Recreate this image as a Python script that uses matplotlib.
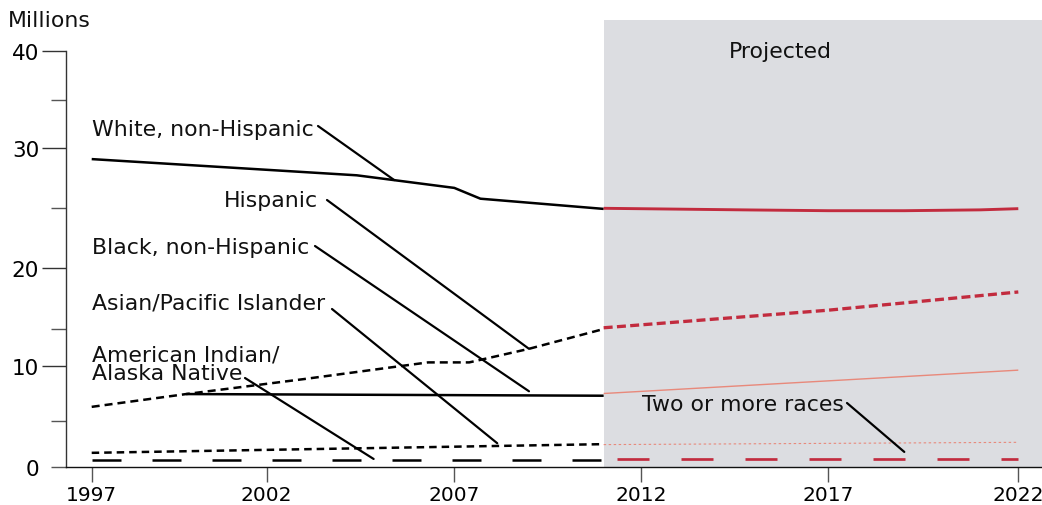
import numpy as np
import matplotlib
matplotlib.use("Agg")
import matplotlib.pyplot as plt
import matplotlib.transforms as mtransforms
from matplotlib.ticker import FixedLocator, FixedFormatter

# enrollment by race/ethnicity, millions
white_years = [1997, 2004.4, 2007, 2007.7, 2011]
white_vals = [29.1, 27.75, 26.7, 25.8, 24.95]
white_proj_years = [2011, 2013, 2015, 2017, 2019, 2021, 2022]
white_proj_vals = [25.0, 24.93, 24.86, 24.8, 24.8, 24.87, 24.97]

hisp_years = [1997, 1999.7, 2003, 2006.3, 2007.4, 2009, 2011]
hisp_vals = [6.3, 7.45, 8.8, 10.45, 10.45, 12.3, 15.0]
hisp_proj_years = [2011, 2017, 2022]
hisp_proj_vals = [15.1, 16.55, 18.05]

black_years = [1999.7, 2011]
black_vals = [7.45, 7.3]
black_proj_years = [2011, 2022]
black_proj_vals = [7.5, 9.6]

asian_years = [1997, 2011]
asian_vals = [1.55, 2.5]
asian_proj_years = [2011, 2022]
asian_proj_vals = [2.45, 2.7]

amind_years = [1997, 2011]
amind_vals = [0.8, 0.8]
amind_proj_years = [2011, 2022]
amind_proj_vals = [0.9, 0.9]

proj_start = 2011
x_ticks = [1997, 2002, 2007, 2012, 2017, 2022]
y_major = [10, 20, 30, 40]
y_minor = [0, 5, 15, 25, 35]

RED = "#c22b3e"
SALMON = "#e8897b"
GRAY = "#dcdde1"

W, H = 1042, 506
fig = plt.figure(figsize=(W / 100, H / 100), dpi=100)
plt.rcParams["font.family"] = ["DejaVu Sans"]

# the original axis is hand drawn with uneven tick spacing; mimic it
y_v = [-10, 0, 5, 10, 15, 20, 25, 30, 35, 40, 60]
y_p = [-91.4, 0, 45.7, 101.3, 138, 198.7, 258.7, 318.7, 367, 416.3, 613.5]
x_v = [1990, 1997, 2002, 2007, 2012, 2017, 2022, 2030]
x_p = [-153.3, 91.7, 266.7, 454.3, 641, 828.3, 1018.3, 1322.3]


def y_fwd(v):
    return np.interp(v, y_v, y_p)


def y_inv(p):
    return np.interp(p, y_p, y_v)


def x_fwd(v):
    return np.interp(v, x_v, x_p)


def x_inv(p):
    return np.interp(p, x_p, x_v)


ax = fig.add_axes([66 / W, 38 / H, 976 / W, 447 / H])
ax.set_xscale("function", functions=(x_fwd, x_inv))
ax.set_yscale("function", functions=(y_fwd, y_inv))
ax.set_xlim(x_inv(66), x_inv(1042))
ax.set_ylim(0, y_inv(447))

# pixel transform (origin top-left) for labels
px = mtransforms.Affine2D().scale(1.0 / W, -1.0 / H).translate(0, 1) + fig.transFigure

ax.axvspan(proj_start, ax.get_xlim()[1], color=GRAY, zorder=0, lw=0)

P = 100 / 72.0  # pixels per point


def line(xs, ys, color, lw_px, dash=None, offset=0):
    lw = lw_px / P
    ls = "-"
    if dash is not None:
        ls = (offset / lw_px, (dash[0] / lw_px, dash[1] / lw_px))
    ax.plot(xs, ys, color=color, lw=lw, linestyle=ls, solid_capstyle="butt",
            dash_capstyle="butt", zorder=2, clip_on=False)


line(white_years, white_vals, "black", 2.5)
line(white_proj_years, white_proj_vals, RED, 2.9)
line(hisp_years, hisp_vals, "black", 2.5, dash=(8, 5))
line(hisp_proj_years, hisp_proj_vals, RED, 3.3, dash=(9, 4.3))
line(black_years, black_vals, "black", 2.5)
line(black_proj_years, black_proj_vals, SALMON, 1.4)
line(asian_years, asian_vals, "black", 2.5, dash=(7.5, 5))
line(asian_proj_years, asian_proj_vals, SALMON, 1.1, dash=(2.5, 2.5))
line(amind_years, amind_vals, "black", 2.5, dash=(29, 31))
line(amind_proj_years, amind_proj_vals, RED, 2.7, dash=(32, 32), offset=51)

# axes styling
for s in ["top", "right"]:
    ax.spines[s].set_visible(False)
ax.spines["left"].set_bounds(0, 40)
ax.spines["left"].set_color("#333333")
ax.spines["left"].set_linewidth(1.0)
ax.spines["bottom"].set_color("#111111")
ax.spines["bottom"].set_linewidth(1.0)

ax.xaxis.set_major_locator(FixedLocator(x_ticks))
ax.xaxis.set_major_formatter(FixedFormatter([str(t) for t in x_ticks]))
ax.xaxis.set_minor_locator(FixedLocator([]))
ax.yaxis.set_major_locator(FixedLocator(y_major))
ax.yaxis.set_major_formatter(FixedFormatter([str(t) for t in y_major]))
ax.yaxis.set_minor_locator(FixedLocator(y_minor))
ax.yaxis.set_minor_formatter(FixedFormatter(["0", "", "", "", ""]))

ax.tick_params(axis="x", which="major", length=15 / P, width=1, color="#555555",
               pad=2, labelsize=14.5)
ax.tick_params(axis="y", which="major", length=24 / P, width=1, color="#333333",
               pad=2, labelsize=15.5)
ax.tick_params(axis="y", which="minor", length=15 / P, width=1, color="#555555",
               pad=2 + 9 / P, labelsize=15.5)

# labels
labels = [
    ("Millions", 8, 27, "left"),
    ("White, non-Hispanic", 92, 136, "left"),
    ("Hispanic", 318, 207.5, "right"),
    ("Black, non-Hispanic", 92, 254, "left"),
    ("Asian/Pacific Islander", 92, 310, "left"),
    ("American Indian/", 92, 362, "left"),
    ("Alaska Native", 92, 380, "left"),
    ("Two or more races", 642, 411, "left"),
    ("Projected", 780, 58, "center"),
]
for txt, lx, ly, ha in labels:
    ax.text(lx, ly, txt, transform=px, ha=ha, va="baseline", fontsize=15.8,
            color="#111111")

# leader lines: label side (pixels) -> point on the series (data)
leaders = [
    ((318, 127), (2005.4, 27.35)),
    ((327, 201), (2009.0, 12.3)),
    ((315, 247), (2009.0, 7.7)),
    ((332, 310), (2008.15, 2.6)),
    ((245, 379), (2004.85, 0.88)),
    ((847, 404), (2019.0, 1.65)),
]
for start, end in leaders:
    ax.annotate("", xy=end, xycoords="data", xytext=start, textcoords=px,
                arrowprops=dict(arrowstyle="-", color="black", lw=2.2 / P,
                                shrinkA=0, shrinkB=0),
                annotation_clip=False, zorder=3)

fig.savefig("out.png", dpi=100)
